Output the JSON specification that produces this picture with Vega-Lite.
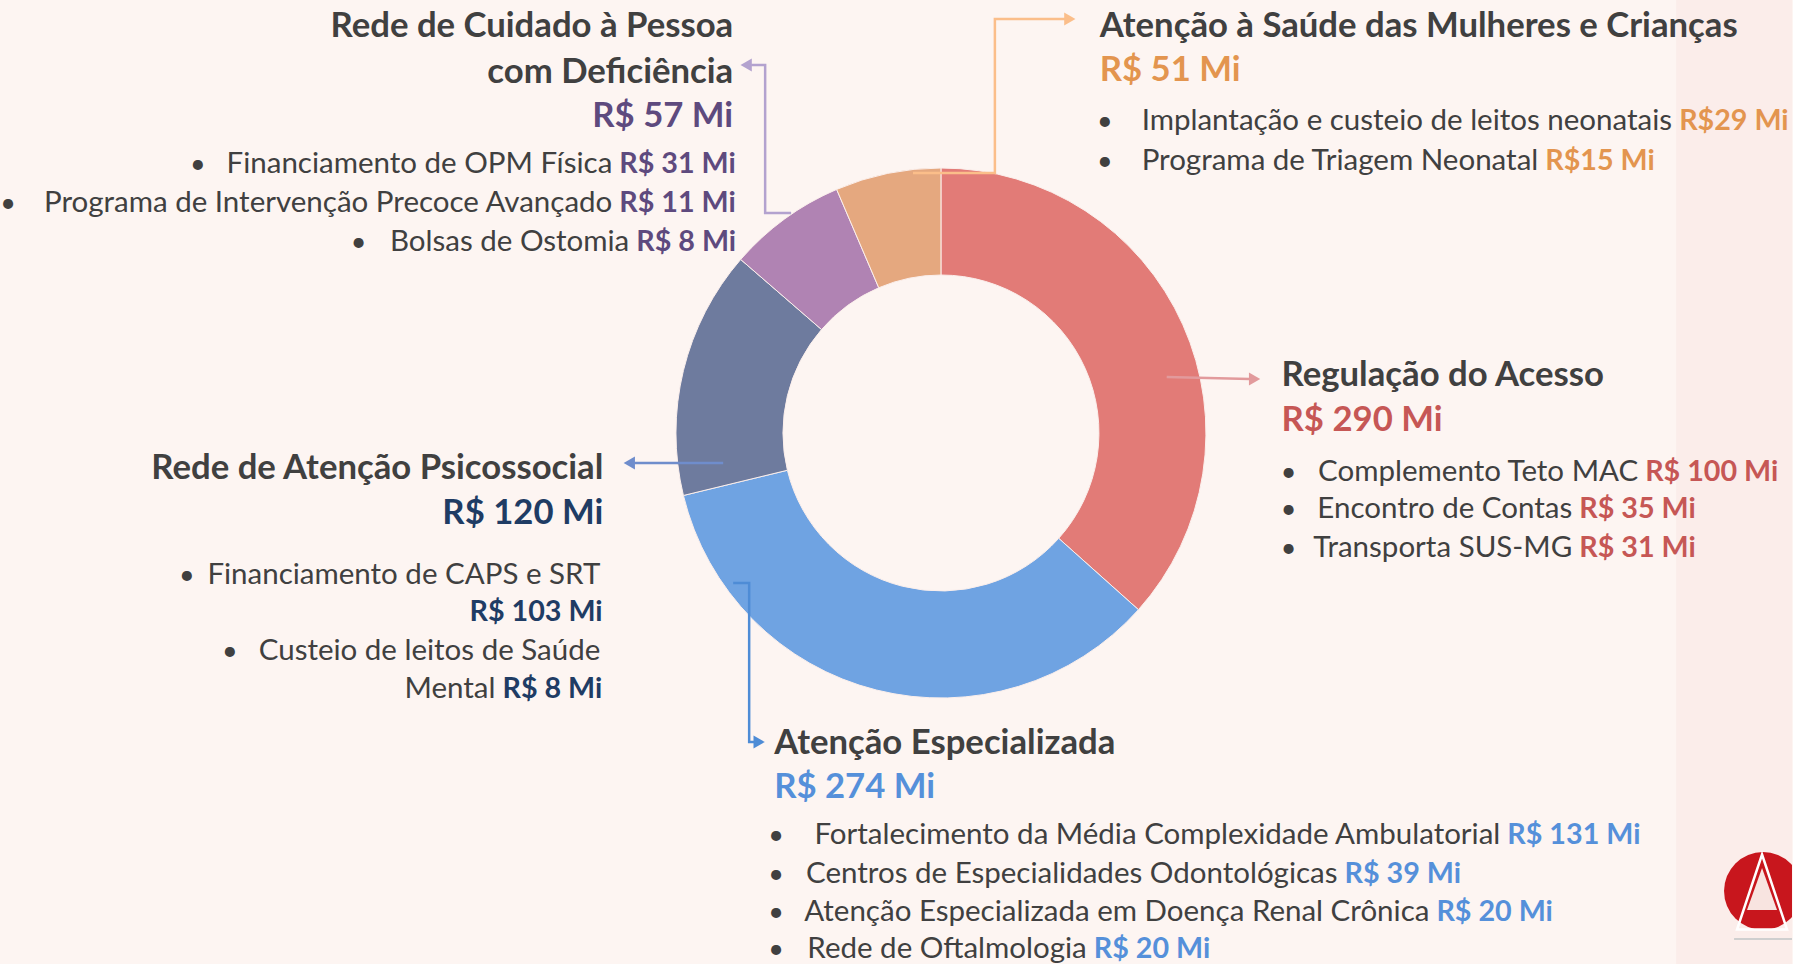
{
  "$schema": "https://vega.github.io/schema/vega-lite/v6.json",
  "width": 1793,
  "height": 964,
  "autosize": {"type": "fit", "contains": "padding"},
  "padding": 0,
  "background": "#FDF5F2",
  "config": {"view": {"stroke": null}, "font": "Lato", "text": {"font": "Lato"}},
  "datasets": {
    "areas": [
      {"grupo": "Regulação", "area": "Regulação do Acesso", "valor": 290, "ordem": 1},
      {"grupo": "Especializada", "area": "Atenção Especializada", "valor": 274, "ordem": 2},
      {"grupo": "Psicossocial", "area": "Rede de Atenção Psicossocial", "valor": 120, "ordem": 3},
      {"grupo": "Deficiência", "area": "Rede de Cuidado à Pessoa com Deficiência", "valor": 57, "ordem": 4},
      {"grupo": "Mulheres", "area": "Atenção à Saúde das Mulheres e Crianças", "valor": 51, "ordem": 5}
    ],
    "cabecalhos": [
      {"texto": "Rede de Cuidado à Pessoa", "grupo": "Deficiência", "papel": "titulo", "lado": "esquerda", "x": 733, "y": 37},
      {"texto": "com Deficiência", "grupo": "Deficiência", "papel": "titulo", "lado": "esquerda", "x": 733, "y": 83},
      {"texto": "R$ 57 Mi", "grupo": "Deficiência", "papel": "total", "lado": "esquerda", "x": 733, "y": 127},
      {"texto": "Rede de Atenção Psicossocial", "grupo": "Psicossocial", "papel": "titulo", "lado": "esquerda", "x": 603, "y": 479},
      {"texto": "R$ 120 Mi", "grupo": "Psicossocial", "papel": "total", "lado": "esquerda", "x": 603, "y": 524},
      {"texto": "Atenção à Saúde das Mulheres e Crianças", "grupo": "Mulheres", "papel": "titulo", "lado": "direita", "x": 1100, "y": 37},
      {"texto": "R$ 51 Mi", "grupo": "Mulheres", "papel": "total", "lado": "direita", "x": 1100, "y": 81},
      {"texto": "Regulação do Acesso", "grupo": "Regulação", "papel": "titulo", "lado": "direita", "x": 1282, "y": 386},
      {"texto": "R$ 290 Mi", "grupo": "Regulação", "papel": "total", "lado": "direita", "x": 1282, "y": 431},
      {"texto": "Atenção Especializada", "grupo": "Especializada", "papel": "titulo", "lado": "direita", "x": 774, "y": 754},
      {"texto": "R$ 274 Mi", "grupo": "Especializada", "papel": "total", "lado": "direita", "x": 774, "y": 798}
    ],
    "itens": [
      {"grupo": "Deficiência", "rotulo": "Financiamento de OPM Física", "valor": "R$ 31 Mi", "x": 619, "y": 173, "xm": 197},
      {"grupo": "Deficiência", "rotulo": "Programa de Intervenção Precoce Avançado", "valor": "R$ 11 Mi", "x": 619, "y": 212, "xm": 7},
      {"grupo": "Deficiência", "rotulo": "Bolsas de Ostomia", "valor": "R$ 8 Mi", "x": 636, "y": 251, "xm": 358},
      {"grupo": "Mulheres", "rotulo": "Implantação e custeio de leitos neonatais", "valor": "R$29 Mi", "x": 1680, "y": 130, "xm": 1105},
      {"grupo": "Mulheres", "rotulo": "Programa de Triagem Neonatal", "valor": "R$15 Mi", "x": 1546, "y": 170, "xm": 1105},
      {"grupo": "Regulação", "rotulo": "Complemento Teto MAC", "valor": "R$ 100 Mi", "x": 1646, "y": 481, "xm": 1289},
      {"grupo": "Regulação", "rotulo": "Encontro de Contas", "valor": "R$ 35 Mi", "x": 1580, "y": 518, "xm": 1289},
      {"grupo": "Regulação", "rotulo": "Transporta SUS-MG", "valor": "R$ 31 Mi", "x": 1580, "y": 557, "xm": 1289},
      {"grupo": "Psicossocial", "rotulo": "Financiamento de CAPS e SRT", "valor": "", "x": 607, "y": 584, "xm": 186},
      {"grupo": "Psicossocial", "rotulo": "", "valor": "R$ 103 Mi", "x": 469, "y": 621, "xm": null},
      {"grupo": "Psicossocial", "rotulo": "Custeio de leitos de Saúde", "valor": "", "x": 607, "y": 660, "xm": 229},
      {"grupo": "Psicossocial", "rotulo": "Mental", "valor": "R$ 8 Mi", "x": 502, "y": 698, "xm": null},
      {"grupo": "Especializada", "rotulo": "Fortalecimento da Média Complexidade Ambulatorial", "valor": "R$ 131 Mi", "x": 1508, "y": 844, "xm": 776},
      {"grupo": "Especializada", "rotulo": "Centros de Especialidades Odontológicas", "valor": "R$ 39 Mi", "x": 1345, "y": 883, "xm": 776},
      {"grupo": "Especializada", "rotulo": "Atenção Especializada em Doença Renal Crônica", "valor": "R$ 20 Mi", "x": 1437, "y": 921, "xm": 776},
      {"grupo": "Especializada", "rotulo": "Rede de Oftalmologia", "valor": "R$ 20 Mi", "x": 1094, "y": 958, "xm": 776}
    ],
    "conectores": [
      {"grupo": "Mulheres", "ordem": 1, "x": 913, "y": 173},
      {"grupo": "Mulheres", "ordem": 2, "x": 995, "y": 173},
      {"grupo": "Mulheres", "ordem": 3, "x": 995, "y": 19},
      {"grupo": "Mulheres", "ordem": 4, "x": 1066, "y": 19},
      {"grupo": "Deficiência", "ordem": 1, "x": 791, "y": 213},
      {"grupo": "Deficiência", "ordem": 2, "x": 765, "y": 213},
      {"grupo": "Deficiência", "ordem": 3, "x": 765, "y": 65},
      {"grupo": "Deficiência", "ordem": 4, "x": 751, "y": 65},
      {"grupo": "Regulação", "ordem": 1, "x": 1167, "y": 377},
      {"grupo": "Regulação", "ordem": 2, "x": 1250, "y": 379},
      {"grupo": "Psicossocial", "ordem": 1, "x": 723, "y": 463},
      {"grupo": "Psicossocial", "ordem": 2, "x": 634, "y": 463},
      {"grupo": "Especializada", "ordem": 1, "x": 733, "y": 583},
      {"grupo": "Especializada", "ordem": 2, "x": 749, "y": 583},
      {"grupo": "Especializada", "ordem": 3, "x": 749, "y": 742},
      {"grupo": "Especializada", "ordem": 4, "x": 754, "y": 742}
    ],
    "setas": [
      {"grupo": "Mulheres", "direcao": "direita", "x": 1070, "y": 19},
      {"grupo": "Deficiência", "direcao": "esquerda", "x": 746, "y": 65},
      {"grupo": "Regulação", "direcao": "direita", "x": 1255, "y": 379},
      {"grupo": "Psicossocial", "direcao": "esquerda", "x": 629, "y": 463},
      {"grupo": "Especializada", "direcao": "direita", "x": 759, "y": 742}
    ]
  },
  "layer": [
    {
      "data": {"values": [{}]},
      "mark": {"type": "rect", "fill": "#FBEDEA"},
      "encoding": {
        "x": {"datum": 1677, "type": "quantitative", "scale": {"domain": [0, 1793], "nice": false, "zero": false}, "axis": null},
        "x2": {"datum": 1793},
        "y": {"datum": 0, "type": "quantitative", "scale": {"domain": [0, 964], "nice": false, "zero": false, "reverse": true}, "axis": null},
        "y2": {"datum": 964}
      }
    },
    {
      "data": {"name": "areas"},
      "mark": {"type": "arc", "radius": 265, "innerRadius": 158, "stroke": "#FBEFEC", "strokeWidth": 1},
      "encoding": {
        "x": {"datum": 941, "type": "quantitative", "scale": {"domain": [0, 1793], "nice": false, "zero": false}, "axis": null},
        "y": {"datum": 433, "type": "quantitative", "scale": {"domain": [0, 964], "nice": false, "zero": false, "reverse": true}, "axis": null},
        "theta": {"field": "valor", "type": "quantitative", "stack": true},
        "order": {"field": "ordem", "type": "quantitative"},
        "fill": {
          "field": "grupo", "type": "nominal", "legend": null,
          "scale": {"domain": ["Regulação", "Especializada", "Psicossocial", "Deficiência", "Mulheres"], "range": ["#E27B77", "#6FA3E2", "#6E7B9E", "#B083B3", "#E5A87F"]}
        }
      }
    },
    {
      "data": {"name": "conectores"},
      "mark": {"type": "line", "strokeWidth": 2.5, "interpolate": "linear"},
      "encoding": {
        "x": {"field": "x", "type": "quantitative", "scale": {"domain": [0, 1793], "nice": false, "zero": false}, "axis": null},
        "y": {"field": "y", "type": "quantitative", "scale": {"domain": [0, 964], "nice": false, "zero": false, "reverse": true}, "axis": null},
        "order": {"field": "ordem", "type": "quantitative"},
        "detail": {"field": "grupo", "type": "nominal"},
        "stroke": {
          "field": "grupo", "type": "nominal", "legend": null,
          "scale": {"domain": ["Regulação", "Especializada", "Psicossocial", "Deficiência", "Mulheres"], "range": ["#E29A9C", "#4E8CD6", "#6F8DCC", "#B3A2CF", "#FBBE8A"]}
        }
      }
    },
    {
      "data": {"name": "setas"},
      "mark": {"type": "point", "filled": true, "opacity": 1, "size": 170},
      "encoding": {
        "x": {"field": "x", "type": "quantitative", "scale": {"domain": [0, 1793], "nice": false, "zero": false}, "axis": null},
        "y": {"field": "y", "type": "quantitative", "scale": {"domain": [0, 964], "nice": false, "zero": false, "reverse": true}, "axis": null},
        "shape": {"field": "direcao", "type": "nominal", "legend": null, "scale": {"domain": ["direita", "esquerda"], "range": ["triangle-right", "triangle-left"]}},
        "color": {
          "field": "grupo", "type": "nominal", "legend": null,
          "scale": {"domain": ["Regulação", "Especializada", "Psicossocial", "Deficiência", "Mulheres"], "range": ["#E29A9C", "#4E8CD6", "#6F8DCC", "#B3A2CF", "#FBBE8A"]}
        }
      }
    },
    {
      "data": {"name": "cabecalhos"},
      "transform": [{"filter": "datum.lado == 'direita'"}],
      "mark": {"type": "text", "align": "left", "baseline": "alphabetic", "fontSize": 34.7, "fontWeight": "bold"},
      "encoding": {
        "x": {"field": "x", "type": "quantitative", "scale": {"domain": [0, 1793], "nice": false, "zero": false}, "axis": null},
        "y": {"field": "y", "type": "quantitative", "scale": {"domain": [0, 964], "nice": false, "zero": false, "reverse": true}, "axis": null},
        "text": {"field": "texto"},
        "color": {
          "condition": {"test": "datum.papel == 'titulo'", "value": "#404040"},
          "field": "grupo", "type": "nominal", "legend": null,
          "scale": {"domain": ["Regulação", "Especializada", "Psicossocial", "Deficiência", "Mulheres"], "range": ["#C65755", "#5590DA", "#1F3C64", "#5E4A7E", "#E3954F"]}
        }
      }
    },
    {
      "data": {"name": "cabecalhos"},
      "transform": [{"filter": "datum.lado == 'esquerda'"}],
      "mark": {"type": "text", "align": "right", "baseline": "alphabetic", "fontSize": 34.7, "fontWeight": "bold"},
      "encoding": {
        "x": {"field": "x", "type": "quantitative", "scale": {"domain": [0, 1793], "nice": false, "zero": false}, "axis": null},
        "y": {"field": "y", "type": "quantitative", "scale": {"domain": [0, 964], "nice": false, "zero": false, "reverse": true}, "axis": null},
        "text": {"field": "texto"},
        "color": {
          "condition": {"test": "datum.papel == 'titulo'", "value": "#404040"},
          "field": "grupo", "type": "nominal", "legend": null,
          "scale": {"domain": ["Regulação", "Especializada", "Psicossocial", "Deficiência", "Mulheres"], "range": ["#C65755", "#5590DA", "#1F3C64", "#5E4A7E", "#E3954F"]}
        }
      }
    },
    {
      "data": {"name": "itens"},
      "mark": {"type": "text", "align": "right", "baseline": "alphabetic", "fontSize": 29.5, "dx": -7, "color": "#404040"},
      "encoding": {
        "x": {"field": "x", "type": "quantitative", "scale": {"domain": [0, 1793], "nice": false, "zero": false}, "axis": null},
        "y": {"field": "y", "type": "quantitative", "scale": {"domain": [0, 964], "nice": false, "zero": false, "reverse": true}, "axis": null},
        "text": {"field": "rotulo"}
      }
    },
    {
      "data": {"name": "itens"},
      "mark": {"type": "text", "align": "left", "baseline": "alphabetic", "fontSize": 28.7, "fontWeight": "bold"},
      "encoding": {
        "x": {"field": "x", "type": "quantitative", "scale": {"domain": [0, 1793], "nice": false, "zero": false}, "axis": null},
        "y": {"field": "y", "type": "quantitative", "scale": {"domain": [0, 964], "nice": false, "zero": false, "reverse": true}, "axis": null},
        "text": {"field": "valor"},
        "color": {
          "field": "grupo", "type": "nominal", "legend": null,
          "scale": {"domain": ["Regulação", "Especializada", "Psicossocial", "Deficiência", "Mulheres"], "range": ["#C65755", "#5590DA", "#1F3C64", "#5E4A7E", "#E3954F"]}
        }
      }
    },
    {
      "data": {"name": "itens"},
      "transform": [{"filter": "isValid(datum.xm)"}],
      "mark": {"type": "text", "align": "center", "baseline": "alphabetic", "fontSize": 27, "color": "#404040", "text": "•"},
      "encoding": {
        "x": {"field": "xm", "type": "quantitative", "scale": {"domain": [0, 1793], "nice": false, "zero": false}, "axis": null},
        "y": {"field": "y", "type": "quantitative", "scale": {"domain": [0, 964], "nice": false, "zero": false, "reverse": true}, "axis": null}
      }
    },
    {
      "data": {"values": [{}]},
      "mark": {"type": "point", "shape": "circle", "filled": true, "size": 6084, "color": "#C8161D", "opacity": 1, "clip": true},
      "encoding": {
        "x": {"datum": 1764, "type": "quantitative", "scale": {"domain": [0, 1793], "nice": false, "zero": false}, "axis": null},
        "y": {"datum": 891, "type": "quantitative", "scale": {"domain": [0, 964], "nice": false, "zero": false, "reverse": true}, "axis": null}
      }
    },
    {
      "data": {"values": [{}]},
      "mark": {"type": "point", "shape": "M0,-1L0.667,1L-0.667,1Z", "filled": false, "size": 5625, "stroke": "#FFFFFF", "strokeWidth": 2.5, "opacity": 1, "clip": true},
      "encoding": {
        "x": {"datum": 1763, "type": "quantitative", "scale": {"domain": [0, 1793], "nice": false, "zero": false}, "axis": null},
        "y": {"datum": 892, "type": "quantitative", "scale": {"domain": [0, 964], "nice": false, "zero": false, "reverse": true}, "axis": null}
      }
    },
    {
      "data": {"values": [{}]},
      "mark": {"type": "point", "shape": "M0,-1L0.714,1L-0.714,1Z", "filled": true, "size": 1764, "color": "#F8E4E0", "opacity": 1, "clip": true},
      "encoding": {
        "x": {"datum": 1763, "type": "quantitative", "scale": {"domain": [0, 1793], "nice": false, "zero": false}, "axis": null},
        "y": {"datum": 889, "type": "quantitative", "scale": {"domain": [0, 964], "nice": false, "zero": false, "reverse": true}, "axis": null}
      }
    },
    {
      "data": {"values": [{}]},
      "mark": {"type": "rule", "color": "#CFCFCF", "strokeWidth": 2},
      "encoding": {
        "x": {"datum": 1735, "type": "quantitative", "scale": {"domain": [0, 1793], "nice": false, "zero": false}, "axis": null},
        "x2": {"datum": 1793},
        "y": {"datum": 939, "type": "quantitative", "scale": {"domain": [0, 964], "nice": false, "zero": false, "reverse": true}, "axis": null}
      }
    }
  ],
  "resolve": {"scale": {"color": "independent", "fill": "independent", "stroke": "independent", "shape": "independent"}}
}
